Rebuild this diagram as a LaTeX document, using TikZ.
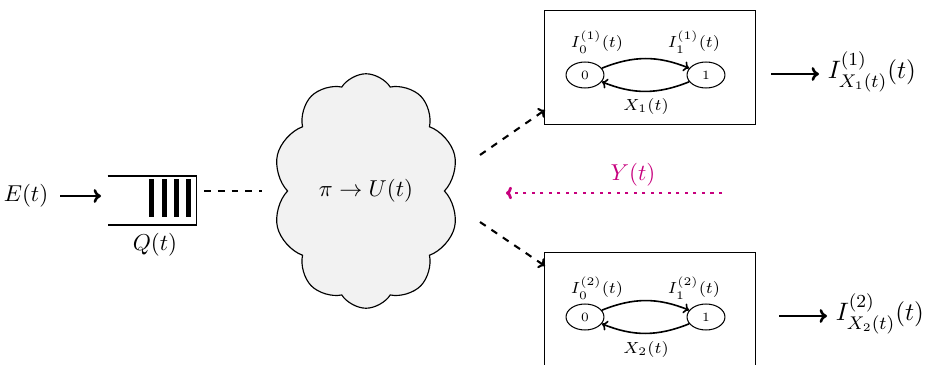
\documentclass[tikz,border=0pt]{standalone}
\usetikzlibrary{shapes.geometric,shapes.symbols,arrows.meta}
\definecolor{ycol}{RGB}{199,0,125}
\begin{document}
\begin{tikzpicture}[x=0.435pt,y=-0.435pt,
  thickarrow/.style={-{To[length=3.2pt,width=6pt]}, line width=1.1pt},
  dasharrow/.style={-{To[length=2.6pt,width=5pt]}, dashed, line width=0.9pt},
  stnode/.style={ellipse, draw, line width=0.45pt, minimum width=16.5pt, minimum height=11.3pt, inner sep=0pt, font=\fontsize{5.5}{6}\selectfont},
  smalllab/.style={font=\fontsize{7.2}{8}\selectfont, inner sep=1pt},
  outlab/.style={anchor=west, inner sep=1pt, font=\fontsize{10.8}{13}\selectfont},
  boxnode/.style={draw, line width=0.4pt, minimum width=91.8pt, minimum height=49.6pt, inner sep=0pt},
  trans/.style={-{To[length=2.4pt,width=4.5pt]}, line width=0.7pt},
  bar/.style={fill=black, draw=none}
]
\useasboundingbox (0,0) rectangle (934,365);

% input and queue
\node (E) at (26,196) {$E(t)$};
\node[minimum width=38.3pt, minimum height=20.9pt, inner sep=0pt] (Q) at (152,200.5) {};
\draw[line width=0.45pt] (Q.north west) -- (Q.north east) -- (Q.south east) -- (Q.south west);
\foreach \bx in {149,162,174,186} {
  \fill[bar] (\bx,179) rectangle (\bx+5,217);
}
\node (QL) at (155,245) {$Q(t)$};
\coordinate (es) at (60,196);
\coordinate (ee) at (101,196);
\draw[thickarrow] (es) -- (ee);

% cloud
\node[cloud, cloud puffs=10, cloud puff arc=115, aspect=0.8, draw, line width=0.5pt, fill=black!5,
      minimum width=81pt, minimum height=102pt, inner sep=0pt] (C) at (366,191) {$\pi \rightarrow U(t)$};
\coordinate (qd) at (204,191);
\coordinate (cd) at (262,191);
\draw[dashed, line width=0.9pt] (qd) -- (cd);

% boxes
\node[boxnode] (B1) at (649.5,67) {};
\node[boxnode] (B2) at (649.5,309) {};

\coordinate (d1s) at (480,155);
\coordinate (d1e) at (545,110);
\coordinate (d2s) at (480,222);
\coordinate (d2e) at (545,266);
\draw[dasharrow] (d1s) -- (d1e);
\draw[dasharrow] (d2s) -- (d2e);

% top chain
\node[stnode] (a0) at (585,75) {0};
\node[stnode] (a1) at (706,75) {1};
\node[smalllab] (la0) at (597,42) {$I_0^{(1)}(t)$};
\node[smalllab] (la1) at (694,42) {$I_1^{(1)}(t)$};
\node[smalllab] (lax) at (646,106) {$X_1(t)$};
\draw[trans] (a0) to[bend left=22] (a1);
\draw[trans] (a1) to[bend left=22] (a0);

% bottom chain
\node[stnode] (b0) at (585,317) {0};
\node[stnode] (b1) at (706,317) {1};
\node[smalllab] (lb0) at (597,288) {$I_0^{(2)}(t)$};
\node[smalllab] (lb1) at (694,288) {$I_1^{(2)}(t)$};
\node[smalllab] (lbx) at (646,349) {$X_2(t)$};
\draw[trans] (b0) to[bend left=22] (b1);
\draw[trans] (b1) to[bend left=22] (b0);

% outputs
\node[outlab] (O1) at (825,72) {$I^{(1)}_{X_1(t)}(t)$};
\node[outlab] (O2) at (833,314) {$I^{(2)}_{X_2(t)}(t)$};
\coordinate (o1s) at (771,74);
\coordinate (o1e) at (819,74);
\coordinate (o2s) at (779,316);
\coordinate (o2e) at (827,316);
\draw[thickarrow] (o1s) -- (o1e);
\draw[thickarrow] (o2s) -- (o2e);

% feedback
\coordinate (ys) at (722,193);
\coordinate (ye) at (506,193);
\draw[ycol, line width=1.2pt, dash pattern=on 1.4pt off 2.3pt, -{To[length=2.6pt,width=5.5pt]}] (ys) -- (ye);
\node[text=ycol] (YL) at (633,175) {$Y(t)$};
\end{tikzpicture}
\end{document}
